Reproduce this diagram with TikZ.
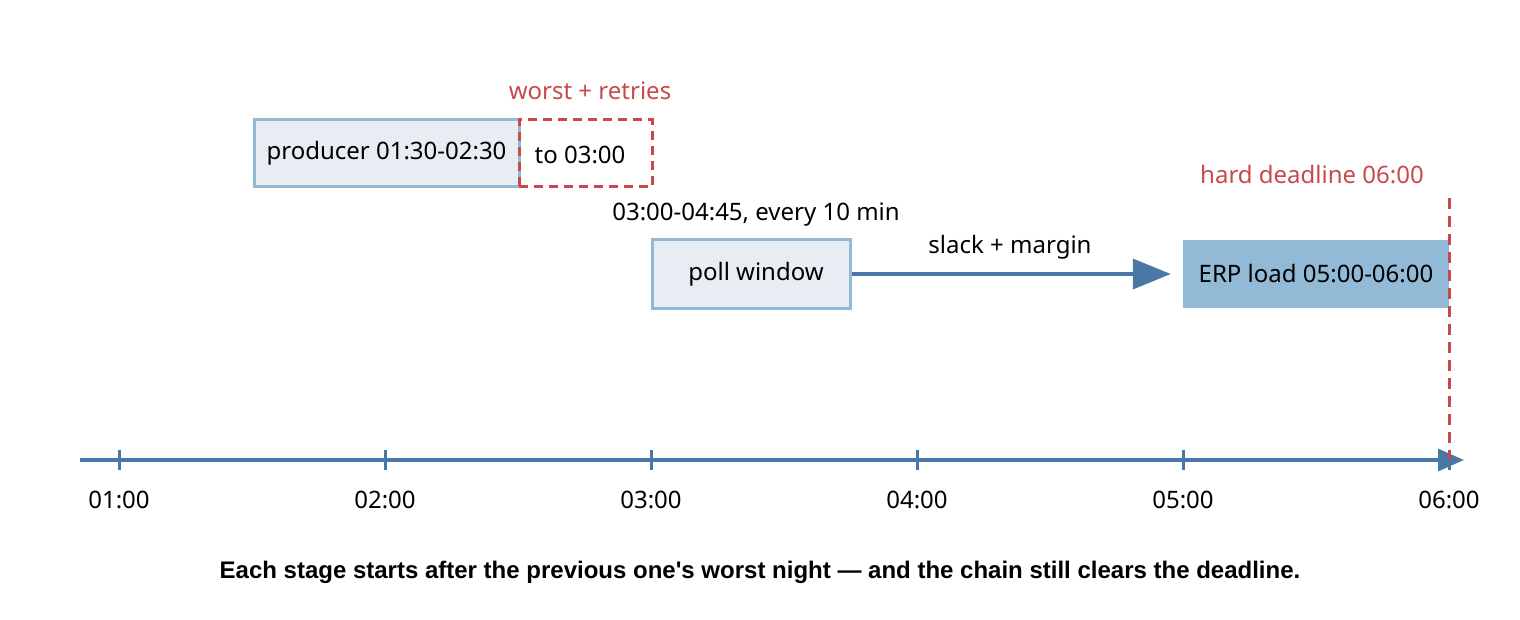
\documentclass[tikz,border=0pt]{standalone}
\usepackage{fontspec}
\setmainfont{Noto Sans}
\newfontfamily\capfont{Liberation Sans}
\usetikzlibrary{arrows.meta}
\definecolor{ax}{HTML}{4A78A6}
\definecolor{lb}{HTML}{92BAD6}
\definecolor{lf}{HTML}{E8EDF4}
\definecolor{rd}{HTML}{C8494B}
\begin{document}
\begin{tikzpicture}[x=1pt,y=-1pt,
  lab/.style={font=\fontsize{24}{28}\selectfont},
  box/.style={lab,draw=lb,line width=3pt,fill=lf,inner sep=0pt},
  rlab/.style={lab,text=rd}]
\useasboundingbox (0,0) rectangle (1520,620);
\draw[ax,line width=3.5pt,-{Triangle[length=26pt,width=22pt]}] (80,460) coordinate(a0) -- (1464,460) coordinate(a1);
\foreach \x/\t [count=\i] in {119/01:00,385/02:00,651/03:00,917/04:00,1183/05:00,1449/06:00}{
  \draw[ax,line width=3pt] (\x,450) -- (\x,470);
  \node[lab] (t\i) at (\x,500) {\t};}
\node[box,minimum width=265pt,minimum height=67pt] (prod) at (386.5,153.5) {producer 01:30-02:30};
\node[draw=rd,line width=3pt,dash pattern=on 9pt off 6pt,minimum width=133pt,minimum height=67pt] (retry) at (585.5,153.5) {};
\node[lab] (to) at (580,155) {to 03:00};
\node[rlab] (w) at (590,91) {worst + retries};
\node[box,minimum width=198pt,minimum height=68pt] (poll) at (751,274) {\hspace*{10pt}poll window};
\node[lab] (pl) at (756,215) {03:00-04:45, every 10 min};
\node[fill=lb,minimum width=266pt,minimum height=68pt,lab] (erp) at (1316,274) {ERP load 05:00-06:00};
\draw[ax,line width=3.5pt,-{Triangle[length=38pt,width=30pt]}] (poll.east) -- ([xshift=-12pt]erp.west);
\node[lab] (sm) at (1010,247) {slack + margin};
\draw[rd,line width=3pt,dash pattern=on 11pt off 7pt] (1449,198) coordinate(d0) -- (1449,460);
\node[rlab] (hd) at (1312,175) {hard deadline 06:00};
\node[font=\capfont\bfseries\fontsize{24}{28}\selectfont] (cap) at (760,572) {Each stage starts after the previous one\textquotesingle s worst night — and the chain still clears the deadline.};
\end{tikzpicture}
\end{document}
